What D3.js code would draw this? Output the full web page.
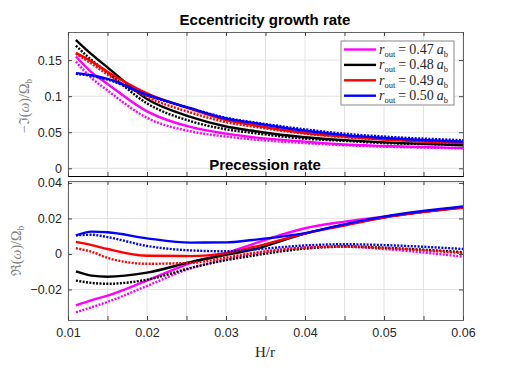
<!DOCTYPE html>
<meta charset="utf-8">
<style>
  body { margin: 0; background: #fff; }
  text { font-family: "Liberation Sans", Arial, sans-serif; }
  .tick text { font-size: 12.5px; fill: #262626; }
  .math { font-family: "Liberation Serif", "DejaVu Serif", serif; }
</style>
<body>
<svg width="512" height="371"></svg>
<script src="https://d3js.org/d3.v7.min.js"></script>
<script>
// x values (H/r) of the sampled curve points
const hr = [0.011, 0.013, 0.015, 0.02, 0.0256, 0.03, 0.0334, 0.04, 0.045, 0.05, 0.06];

// growth rate -Im(omega)/Omega_b
const grow047 = [0.155, 0.133, 0.117, 0.079, 0.057, 0.048, 0.043, 0.037, 0.033, 0.031, 0.028];
const grow047d = [0.148, 0.125, 0.108, 0.070, 0.051, 0.044, 0.040, 0.035, 0.032, 0.030, 0.028];
const grow048 = [0.178, 0.158, 0.140, 0.096, 0.071, 0.058, 0.052, 0.043, 0.039, 0.036, 0.032];
const grow048d = [0.170, 0.150, 0.133, 0.090, 0.065, 0.054, 0.049, 0.041, 0.038, 0.035, 0.033];
const grow049 = [0.160, 0.148, 0.134, 0.104, 0.082, 0.067, 0.060, 0.049, 0.044, 0.040, 0.035];
const grow049d = [0.159, 0.145, 0.130, 0.099, 0.077, 0.064, 0.058, 0.048, 0.043, 0.040, 0.036];
const grow050 = [0.132, 0.129, 0.124, 0.102, 0.083, 0.069, 0.063, 0.052, 0.046, 0.042, 0.037];
const grow050d = [0.131, 0.128, 0.123, 0.101, 0.083, 0.070, 0.064, 0.054, 0.048, 0.044, 0.039];

// precession rate Re(omega)/Omega_b
const prec047 = [-0.029, -0.026, -0.0235, -0.0150, -0.0050, 0.0005, 0.0056, 0.0145, 0.0182, 0.0210, 0.0265];
const prec047d = [-0.0328, -0.030, -0.027, -0.018, -0.0080, -0.0030, 0.0000, 0.0035, 0.0042, 0.0028, -0.0015];
const prec048 = [-0.0098, -0.0122, -0.0128, -0.0105, -0.0045, -0.0005, 0.0025, 0.0115, 0.0165, 0.0207, 0.0263];
const prec048d = [-0.0150, -0.0163, -0.0168, -0.0145, -0.0078, -0.0035, -0.0010, 0.0030, 0.0042, 0.0035, 0.0010];
const prec049 = [0.0068, 0.0050, 0.0028, -0.0010, -0.0012, 0.0005, 0.0038, 0.0115, 0.0160, 0.0205, 0.0260];
const prec049d = [0.0032, 0.0012, -0.0022, -0.0055, -0.0050, -0.0020, 0.0005, 0.0035, 0.0040, 0.0033, 0.0005];
const prec050 = [0.0105, 0.0126, 0.0122, 0.0088, 0.0064, 0.0065, 0.0079, 0.0117, 0.0167, 0.0210, 0.0267];
const prec050d = [0.0105, 0.0108, 0.0095, 0.0045, 0.0020, 0.0015, 0.0025, 0.0048, 0.0055, 0.0050, 0.0028];

const radii = ['0.47', '0.48', '0.49', '0.50'];
const colors = ['#ff00ff', '#000000', '#ff0000', '#0000ff'];

const xTicks = [0.01, 0.02, 0.03, 0.04, 0.05, 0.06];
const xMinor = d3.range(0.01, 0.0601, 0.005);
const topTicks = [0, 0.05, 0.1, 0.15];
const botTicks = [-0.02, 0, 0.02, 0.04];

const svg = d3.select('svg');

const x = d3.scaleLinear().domain([0.01, 0.06]).range([68, 463]);
const yTop = d3.scaleLinear().domain([-0.0107, 0.189]).range([176, 32]);
const yBot = d3.scaleLinear().domain([-0.0372, 0.0411]).range([320, 181]);

const solid = [grow047, grow048, grow049, grow050];
const dotted = [grow047d, grow048d, grow049d, grow050d];
const psolid = [prec047, prec048, prec049, prec050];
const pdotted = [prec047d, prec048d, prec049d, prec050d];

function panel(y, ticks, sol, dot, id) {
  const g = svg.append('g');
  const [y0, y1] = y.range();
  // grid
  g.append('g').selectAll('line').data(xMinor).enter().append('line')
    .attr('x1', d => x(d)).attr('x2', d => x(d)).attr('y1', y1).attr('y2', y0)
    .attr('stroke', '#e3e3e3');
  g.append('g').selectAll('line').data(ticks).enter().append('line')
    .attr('x1', 68).attr('x2', 463).attr('y1', d => y(d)).attr('y2', d => y(d))
    .attr('stroke', '#e3e3e3');

  svg.append('clipPath').attr('id', id).append('rect')
    .attr('x', 68).attr('y', y1).attr('width', 395).attr('height', y0 - y1);

  const line = d3.line().x((d, i) => x(hr[i])).y(d => y(d)).curve(d3.curveMonotoneX);
  const lines = g.append('g').attr('clip-path', `url(#${id})`);
  sol.forEach((s, i) => {
    lines.append('path').attr('d', line(s)).attr('fill', 'none')
      .attr('stroke', colors[i]).attr('stroke-width', 2.4);
    lines.append('path').attr('d', line(dot[i])).attr('fill', 'none')
      .attr('stroke', colors[i]).attr('stroke-width', 2.4).attr('stroke-dasharray', '2,1.4');
  });

  // axes
  g.append('g').attr('transform', 'translate(68,0)')
    .call(d3.axisLeft(y).tickValues(ticks).tickSize(-4).tickPadding(6).tickFormat(d3.format('~g')))
    .call(a => a.select('.domain').attr('stroke', '#666'))
    .call(a => a.selectAll('.tick line').attr('stroke', '#444'));
  g.append('g').attr('transform', 'translate(463,0)')
    .call(d3.axisRight(y).tickValues(ticks).tickSize(-4).tickFormat(''))
    .call(a => a.select('.domain').attr('stroke', '#666'))
    .call(a => a.selectAll('.tick line').attr('stroke', '#444'));
  g.append('g').attr('transform', `translate(0,${y1})`)
    .call(d3.axisTop(x).tickValues(xMinor).tickSize(-4).tickFormat(''))
    .call(a => a.select('.domain').attr('stroke', '#666'))
    .call(a => a.selectAll('.tick line').attr('stroke', '#444'));
  return g;
}

panel(yTop, topTicks, solid, dotted, 'clipTop');
panel(yBot, botTicks, psolid, pdotted, 'clipBot');

// bottom axis of the top panel (black)
svg.append('g').attr('transform', 'translate(0,176)')
  .call(d3.axisBottom(x).tickValues(xMinor).tickSize(-4).tickFormat(''))
  .call(a => a.select('.domain').attr('stroke', '#000'))
  .call(a => a.selectAll('.tick line').attr('stroke', '#444'));

// bottom x axis
svg.append('g').attr('transform', 'translate(0,320)')
  .call(d3.axisBottom(x).tickValues(xMinor).tickSize(-4).tickPadding(8)
    .tickFormat(d => xTicks.some(t => Math.abs(t - d) < 1e-9) ? d3.format('.2f')(d) : ''))
  .call(a => a.select('.domain').attr('stroke', '#666'))
  .call(a => a.selectAll('.tick line').attr('stroke', '#444'));

// titles
svg.append('text').attr('x', 265).attr('y', 25).attr('text-anchor', 'middle')
  .attr('font-weight', 'bold').attr('font-size', 15).text('Eccentricity growth rate');
svg.append('text').attr('x', 265).attr('y', 170).attr('text-anchor', 'middle')
  .attr('font-weight', 'bold').attr('font-size', 15).text('Precession rate');

// axis labels
const yl1 = svg.append('text').attr('class', 'math').attr('transform', 'translate(29,106) rotate(-90)')
  .attr('text-anchor', 'middle').attr('font-size', 14).attr('fill', '#808080');
yl1.append('tspan').text('−ℑ(');
yl1.append('tspan').attr('font-style', 'italic').text('ω');
yl1.append('tspan').text(')/Ω');
yl1.append('tspan').attr('font-size', 9.5).attr('dy', 3).text('b');

const yl2 = svg.append('text').attr('class', 'math').attr('transform', 'translate(21,251) rotate(-90)')
  .attr('text-anchor', 'middle').attr('font-size', 14).attr('fill', '#808080');
yl2.append('tspan').text('ℜ(');
yl2.append('tspan').attr('font-style', 'italic').text('ω');
yl2.append('tspan').text(')/Ω');
yl2.append('tspan').attr('font-size', 9.5).attr('dy', 3).text('b');

svg.append('text').attr('class', 'math').attr('x', 265).attr('y', 357)
  .attr('text-anchor', 'middle').attr('font-size', 15).attr('fill', '#262626').text('H/r');

// legend
const lg = svg.append('g');
lg.append('rect').attr('x', 341).attr('y', 41).attr('width', 113).attr('height', 64)
  .attr('fill', '#fff').attr('stroke', '#888');
radii.forEach((r, i) => {
  const yy = 49.5 + i * 15.4;
  lg.append('line').attr('x1', 344).attr('x2', 376).attr('y1', yy).attr('y2', yy)
    .attr('stroke', colors[i]).attr('stroke-width', 2.4);
  const t = lg.append('text').attr('class', 'math').attr('x', 379).attr('y', yy + 4.5)
    .attr('font-size', 14).attr('fill', '#262626');
  t.append('tspan').attr('font-style', 'italic').text('r');
  t.append('tspan').attr('font-size', 8.5).attr('dy', 3).text('out');
  t.append('tspan').attr('dy', -3).attr('dx', 3).text('=');
  t.append('tspan').attr('dx', 3).text(r);
  t.append('tspan').attr('dx', 3).attr('font-style', 'italic').text('a');
  t.append('tspan').attr('font-size', 8.5).attr('dy', 3).text('b');
});
</script>
</body>
